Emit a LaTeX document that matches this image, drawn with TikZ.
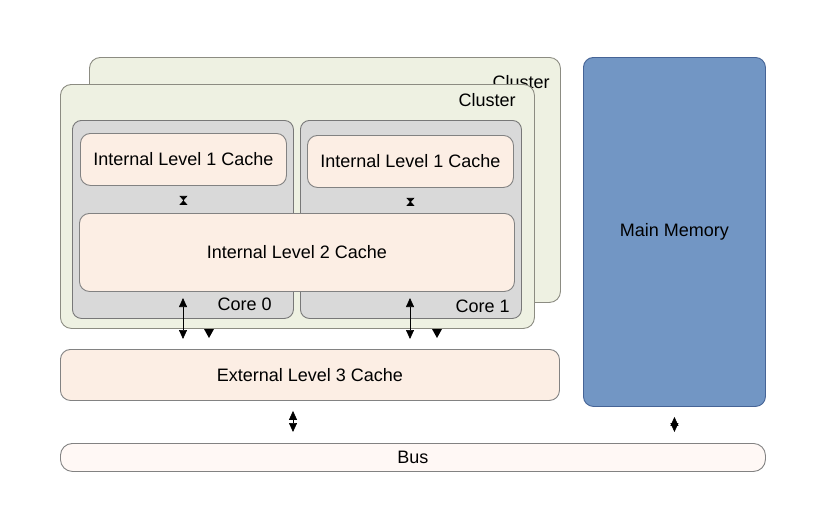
\documentclass[tikz,border=0pt]{standalone}
\usepackage{fontspec}
\setmainfont{Liberation Sans}
\usetikzlibrary{arrows.meta}

\definecolor{clusterfill}{RGB}{238,241,226}
\definecolor{clusterline}{RGB}{140,140,130}
\definecolor{corefill}{RGB}{217,217,217}
\definecolor{coreline}{RGB}{120,120,120}
\definecolor{cachefill}{RGB}{252,238,228}
\definecolor{cacheline}{RGB}{130,130,130}
\definecolor{busfill}{RGB}{255,248,245}
\definecolor{memfill}{RGB}{114,150,196}
\definecolor{memline}{RGB}{70,100,150}

\tikzset{
  box/.style={anchor=north west,inner sep=0pt,line width=0.9pt,font=\fontsize{18}{21}\selectfont},
  cluster/.style={box,draw=clusterline,fill=clusterfill,rounded corners=11pt},
  core/.style={box,draw=coreline,fill=corefill,rounded corners=9pt},
  cache/.style={box,draw=cacheline,fill=cachefill,rounded corners=10pt},
  memory/.style={box,draw=memline,fill=memfill,rounded corners=10pt},
  bus/.style={box,draw=cacheline,fill=busfill,rounded corners=12pt},
  lbl/.style={inner sep=0pt,font=\fontsize{18}{21}\selectfont},
  link/.style={line width=0.7pt,{Triangle[width=8pt,length=9pt]}-{Triangle[width=8pt,length=9pt]}},
  pinch/.style={line width=0.7pt,{Triangle[reversed,width=8pt,length=4.5pt]}-{Triangle[reversed,width=8pt,length=4.5pt]}},
  tip/.style={fill=black}
}

\begin{document}
\begin{tikzpicture}[x=1pt,y=1pt,yscale=-1]
\useasboundingbox (0,0) rectangle (825,530);

% clusters
\draw (89,57) node [cluster,minimum width=471pt,minimum height=245pt] (clusterB) {};
\draw (clusterB.north east) ++(-11,18) node [lbl,anchor=north east] (clusterBlbl) {Cluster};
\draw (60,84) node [cluster,minimum width=474pt,minimum height=244pt] (clusterA) {};
\draw (clusterA.north east) ++(-19,9) node [lbl,anchor=north east] (clusterAlbl) {Cluster};

% cores
\draw (72,120) node [core,minimum width=221pt,minimum height=198pt] (core0) {};
\draw (300,120) node [core,minimum width=221pt,minimum height=198pt] (core1) {};
\draw (core0.south east) ++(-22,-8) node [lbl,anchor=south east] (core0lbl) {Core 0};
\draw (core1.south east) ++(-12,-6) node [lbl,anchor=south east] (core1lbl) {Core 1};

% caches
\draw (80,133) node [cache,minimum width=206pt,minimum height=52pt] (l1a) {Internal Level 1 Cache};
\draw (307,135) node [cache,minimum width=206pt,minimum height=52pt] (l1b) {Internal Level 1 Cache};
\draw (79,213) node [cache,minimum width=435pt,minimum height=78pt] (l2) {Internal Level 2 Cache};
\draw (60,349) node [cache,minimum width=499pt,minimum height=51pt] (l3) {External Level 3 Cache};

% memory and bus
\draw (583,57) node [memory,minimum width=182pt,minimum height=349pt] (mem) {Main Memory};
\draw (60,443) node [bus,minimum width=705pt,minimum height=28pt] (bus) {Bus};

% L1 <-> L2
\draw [pinch] ([yshift=10pt]l1a.south) -- ([yshift=19pt]l1a.south);
\draw [pinch] ([yshift=10pt]l1b.south) -- ([yshift=18pt]l1b.south);

% cores <-> L3
\coordinate (c0a) at (183,298);
\coordinate (c0b) at (183,339);
\coordinate (c1a) at (410,298);
\coordinate (c1b) at (410,339);
\draw [link] (c0a) -- (c0b);
\draw [link] (c1a) -- (c1b);
\fill [tip] (204,329) -- (214,329) -- (209,338) -- cycle;
\fill [tip] (432,329) -- (442,329) -- (437,338) -- cycle;

% L3 <-> bus, memory <-> bus
\coordinate (l3bus) at (293,0);
\draw [link] ([yshift=10pt]l3.south -| l3bus) -- ([yshift=-11pt]bus.north -| l3bus);
\draw [link] ([yshift=10pt]mem.south) -- ([yshift=-11pt]bus.north -| mem.south);
\end{tikzpicture}
\end{document}
